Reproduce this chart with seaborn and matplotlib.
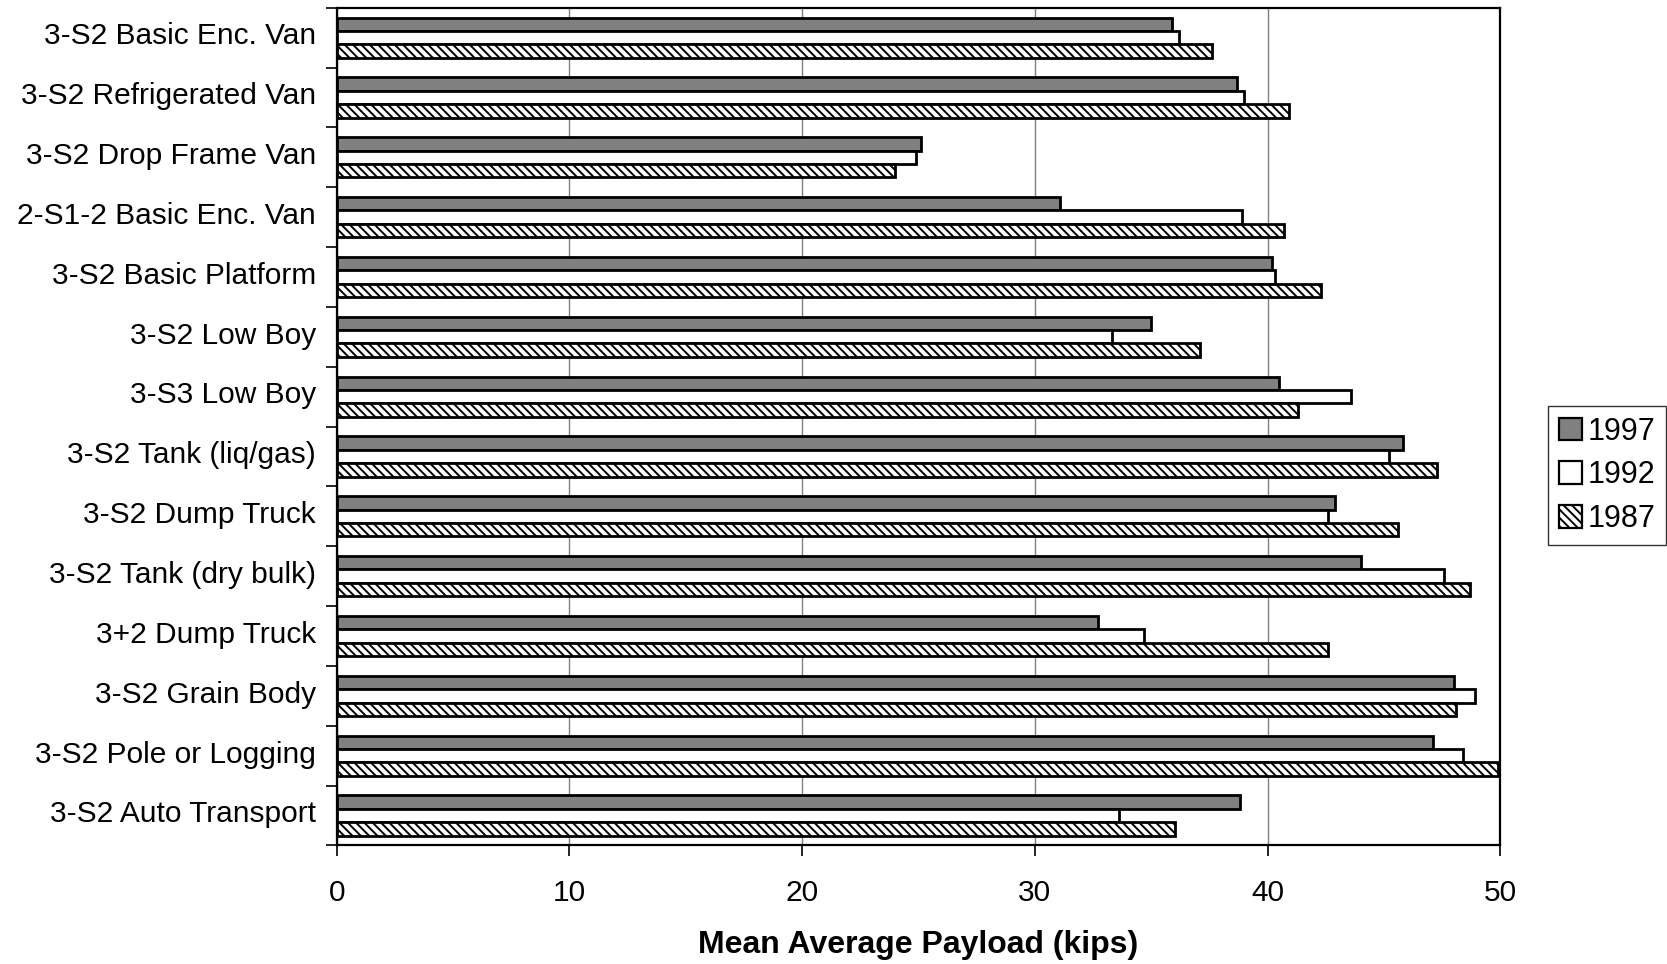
import matplotlib
matplotlib.use("Agg")
import matplotlib.pyplot as plt
import matplotlib.transforms as mtransforms
import seaborn as sns
import pandas as pd
import numpy as np
from matplotlib.patches import Patch

categories = [
    "3-S2 Basic Enc. Van", "3-S2 Refrigerated Van", "3-S2 Drop Frame Van",
    "2-S1-2 Basic Enc. Van", "3-S2 Basic Platform", "3-S2 Low Boy",
    "3-S3 Low Boy", "3-S2 Tank (liq/gas)", "3-S2 Dump Truck",
    "3-S2 Tank (dry bulk)", "3+2 Dump Truck", "3-S2 Grain Body",
    "3-S2 Pole or Logging", "3-S2 Auto Transport",
]
years = ["1997", "1992", "1987"]
v1997 = [35.9, 38.7, 25.1, 31.1, 40.2, 35.0, 40.5, 45.8, 42.9, 44.0, 32.7, 48.0, 47.1, 38.8]
v1992 = [36.2, 39.0, 24.9, 38.9, 40.3, 33.3, 43.6, 45.2, 42.6, 47.6, 34.7, 48.9, 48.4, 33.6]
v1987 = [37.6, 40.9, 24.0, 40.7, 42.3, 37.1, 41.3, 47.3, 45.6, 48.7, 42.6, 48.1, 49.9, 36.0]
xticks = [0, 10, 20, 30, 40, 50]

df = pd.DataFrame({
    "category": categories * 3,
    "year": ["1997"] * 14 + ["1992"] * 14 + ["1987"] * 14,
    "value": v1997 + v1992 + v1987,
})

sns.set_theme(style="white")
plt.rcParams["font.family"] = ["Liberation Sans", "DejaVu Sans"]
plt.rcParams["hatch.linewidth"] = 1.4
plt.rcParams["text.color"] = "black"
plt.rcParams["axes.labelcolor"] = "black"
plt.rcParams["xtick.color"] = "black"
plt.rcParams["ytick.color"] = "black"

fig = plt.figure(figsize=(16.67, 9.64), dpi=100)
ax = fig.add_axes([0.202, 0.123, 0.698, 0.869])

palette = {"1997": "#808080", "1992": "#ffffff", "1987": "#ffffff"}
sns.barplot(data=df, y="category", x="value", hue="year", hue_order=years,
            order=categories, palette=palette, orient="h", width=0.67,
            edgecolor="black", linewidth=2.0, saturation=1, ax=ax, legend=False,
            zorder=3)

for cont, yr in zip(ax.containers, years):
    for p in cont:
        if yr == "1987":
            p.set_hatch("\\\\\\\\")

ax.set_xlim(0, 50)
ax.set_ylim(len(categories) - 0.5, -0.5)
ax.set_xticks(xticks)
ax.set_xticklabels([str(t) for t in xticks], fontsize=21.5)
ax.set_yticks(range(len(categories)))
ax.set_yticklabels(categories, fontsize=21.5)
ax.set_yticks(np.arange(-0.5, len(categories), 1), minor=True)
ax.tick_params(axis="y", which="major", length=0, pad=15)
ax.tick_params(axis="y", which="minor", length=8, width=1.2, color="black", direction="out", left=True)
ax.tick_params(axis="x", which="major", length=8, width=1.2, color="black", direction="out", bottom=True, pad=16)
shift = mtransforms.ScaledTranslation(0, 3 / 72, fig.dpi_scale_trans)
for lbl in ax.get_yticklabels():
    lbl.set_transform(lbl.get_transform() + shift)
ax.xaxis.grid(True, color="#808080", linewidth=1.0, zorder=0)
ax.set_axisbelow(True)
ax.set_ylabel("")
ax.set_xlabel("Mean Average Payload (kips)", fontsize=23, fontweight="bold", labelpad=17)
for s in ax.spines.values():
    s.set_visible(True)
    s.set_color("black")
    s.set_linewidth(1.6)

handles = [
    Patch(facecolor="#808080", edgecolor="black", linewidth=1.6, label="1997"),
    Patch(facecolor="white", edgecolor="black", linewidth=1.6, label="1992"),
    Patch(facecolor="white", edgecolor="black", linewidth=1.6, hatch="\\\\\\\\", label="1987"),
]
leg = fig.legend(handles=handles, loc="center left", bbox_to_anchor=(0.9286, 0.507),
                 fontsize=22, frameon=True, fancybox=False, handlelength=0.75,
                 handleheight=0.75, handletextpad=0.2, labelspacing=0.45,
                 borderpad=0.35, borderaxespad=0)
leg.get_frame().set_edgecolor("black")
leg.get_frame().set_linewidth(1.0)

fig.savefig("out.png", dpi=100)
